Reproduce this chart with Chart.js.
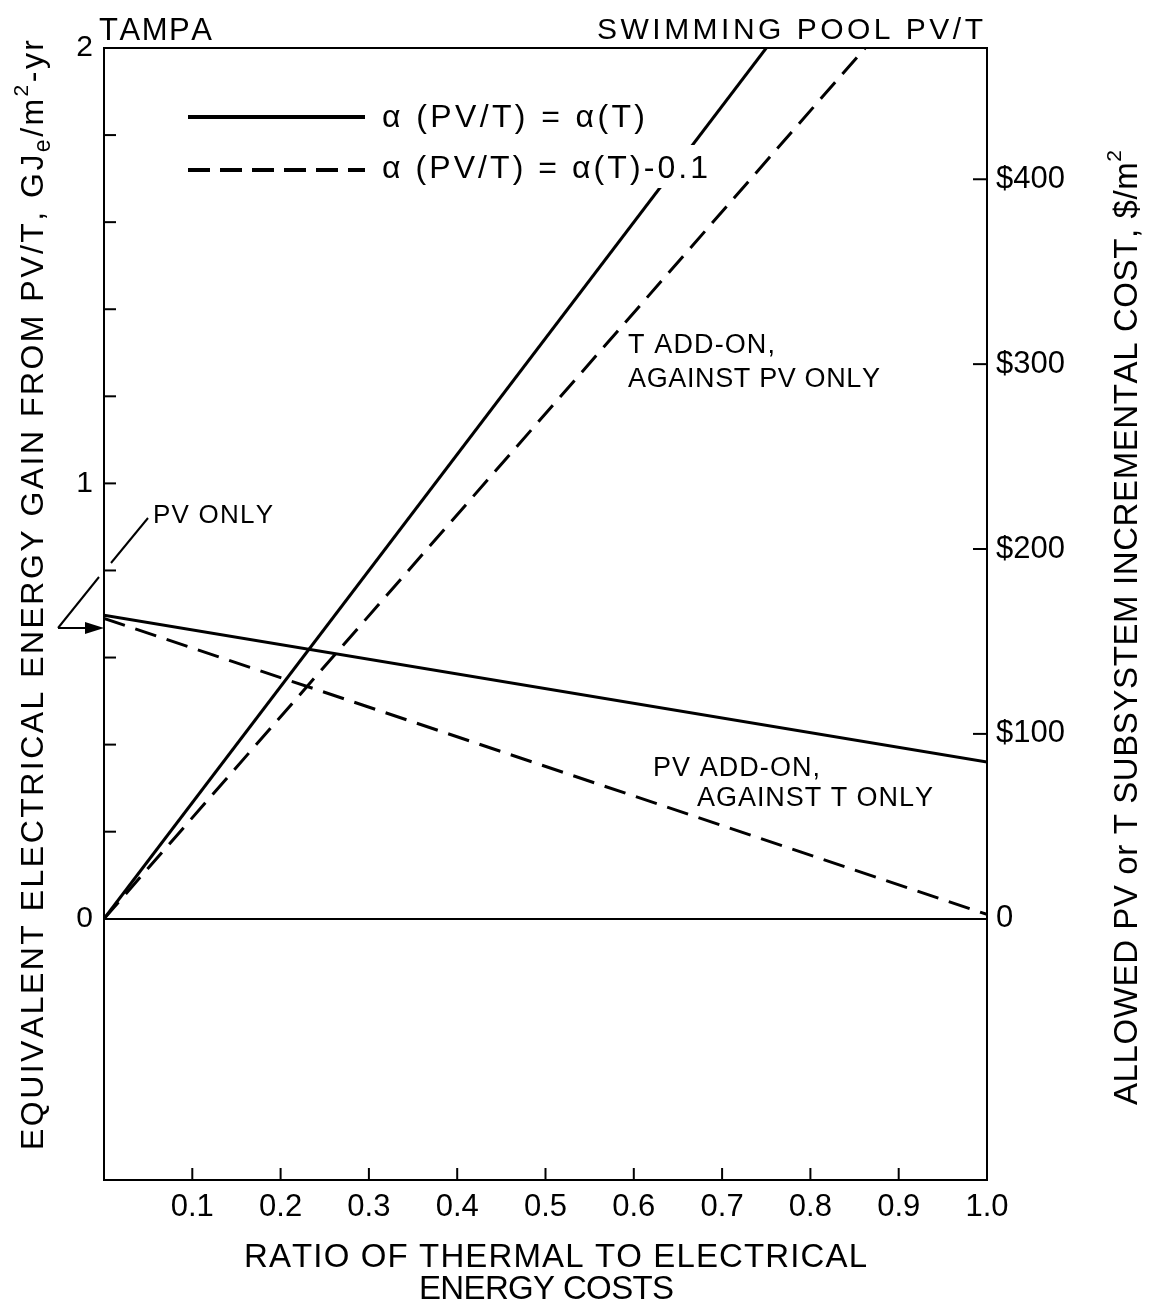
<!DOCTYPE html>
<html><head><meta charset="utf-8">
<script src="https://cdn.jsdelivr.net/npm/chart.js@4.4.1/dist/chart.umd.min.js"></script>
<style>html,body{margin:0;padding:0;background:#fff;}#wrap{width:1159px;height:1307px;position:relative;}</style>
</head><body><div id="wrap"><canvas id="c" width="1159" height="1307"></canvas></div>
<script>
// ---- data ----
const tAddOnSolidX = [0, 0.75];
const tAddOnSolidY = [0, 2.0];
const tAddOnDashedX = [0, 0.862];
const tAddOnDashedY = [0, 2.0];
const pvAddOnX = [0, 1.0];
const pvAddOnSolidY = [0.697, 0.36];
const pvAddOnDashedY = [0.69, 0.01];

const xTickValues = [0.1, 0.2, 0.3, 0.4, 0.5, 0.6, 0.7, 0.8, 0.9, 1.0];
const xTickLabels = ['0.1', '0.2', '0.3', '0.4', '0.5', '0.6', '0.7', '0.8', '0.9', '1.0'];
const xTickMarks = [0.1, 0.2, 0.3, 0.4, 0.5, 0.6, 0.7, 0.8, 0.9];
const yTickValues = [0, 1, 2];
const yTickLabels = ['0', '1', '2'];
const yTickMarks = [0.2, 0.4, 0.6, 0.8, 1.0, 1.2, 1.4, 1.6, 1.8];
const costTickValues = [0, 100, 200, 300, 400];
const costTickLabels = ['0', '$100', '$200', '$300', '$400'];
const costTickMarks = [100, 200, 300, 400];
const dollarsPerGJ = 235.5;
const yMin = -0.6, yMax = 2;

const FAMILY = "'Liberation Sans', Arial, Helvetica, sans-serif";
function fnt(size) { return size + 'px ' + FAMILY; }
function pts(xs, ys) { return xs.map((x, i) => ({x: x, y: ys[i]})); }

function drawFitted(ctx, segs, x, y, target) {
  const chars = [];
  for (const s of segs) for (const ch of Array.from(s.t)) chars.push({ch: ch, size: s.size, dy: s.dy || 0});
  let nat = 0;
  for (const c of chars) { ctx.font = fnt(c.size); c.w = ctx.measureText(c.ch).width; nat += c.w; }
  const extra = chars.length > 1 ? (target - nat) / (chars.length - 1) : 0;
  let cx = x;
  for (const c of chars) { ctx.font = fnt(c.size); ctx.fillText(c.ch, cx, y + c.dy); cx += c.w + extra; }
}

function line(ctx, x1, y1, x2, y2) { ctx.beginPath(); ctx.moveTo(x1, y1); ctx.lineTo(x2, y2); ctx.stroke(); }

const decor = {
  id: 'decor',
  afterDatasetsDraw(chart) {
    const ctx = chart.ctx;
    const a = chart.chartArea;
    const xs = chart.scales.x, ys = chart.scales.y, cs = chart.scales.y2;
    ctx.save();
    ctx.strokeStyle = '#000'; ctx.fillStyle = '#000';
    ctx.lineCap = 'butt';
    // top frame
    ctx.lineWidth = 2;
    line(ctx, a.left, a.top, a.right, a.top);
    // inner tick marks
    for (const v of xTickMarks) { const px = xs.getPixelForValue(v); line(ctx, px, a.bottom, px, a.bottom - 12); }
    for (const v of yTickMarks) { const py = ys.getPixelForValue(v); line(ctx, a.left, py, a.left + 12, py); }
    for (const v of costTickMarks) { const py = cs.getPixelForValue(v); line(ctx, a.right - 14, py, a.right, py); }

    // legend
    ctx.fillStyle = '#fff';
    ctx.fillRect(374, 145, 342, 43);
    ctx.fillStyle = '#000';
    ctx.lineWidth = 4;
    line(ctx, 188, 117, 365, 117);
    ctx.setLineDash([22, 10]);
    line(ctx, 188, 170, 365, 170);
    ctx.setLineDash([]);
    ctx.textAlign = 'left'; ctx.textBaseline = 'alphabetic';
    drawFitted(ctx, [{t: 'α (PV/T) = α(T)', size: 32}], 382, 127, 263);
    drawFitted(ctx, [{t: 'α (PV/T) = α(T)-0.1', size: 32}], 382, 178, 326);

    // headings
    drawFitted(ctx, [{t: 'TAMPA', size: 31}], 99, 40, 113);
    drawFitted(ctx, [{t: 'SWIMMING POOL PV/T', size: 30}], 597, 39, 386);

    // annotations
    drawFitted(ctx, [{t: 'T ADD-ON,', size: 27}], 628, 353, 147);
    drawFitted(ctx, [{t: 'AGAINST PV ONLY', size: 27}], 628, 387, 252);
    drawFitted(ctx, [{t: 'PV ADD-ON,', size: 27}], 653, 776, 167);
    drawFitted(ctx, [{t: 'AGAINST T ONLY', size: 27}], 697, 806, 236);
    drawFitted(ctx, [{t: 'PV ONLY', size: 26}], 153, 523, 120);

    // PV ONLY leader + arrow
    ctx.lineWidth = 2;
    line(ctx, 148, 518, 111, 563);
    line(ctx, 99, 577, 58, 628);
    line(ctx, 58, 628, 88, 628);
    ctx.beginPath(); ctx.moveTo(104, 628); ctx.lineTo(85, 622); ctx.lineTo(85, 634); ctx.closePath(); ctx.fill();

    // x axis title
    drawFitted(ctx, [{t: 'RATIO OF THERMAL TO ELECTRICAL', size: 33}], 244, 1267, 623);
    drawFitted(ctx, [{t: 'ENERGY COSTS', size: 33}], 419, 1299, 255);

    // left axis title
    ctx.save();
    ctx.translate(43, 1150); ctx.rotate(-Math.PI / 2);
    drawFitted(ctx, [
      {t: 'EQUIVALENT ELECTRICAL ENERGY GAIN FROM PV/T, GJ', size: 32},
      {t: 'e', size: 23, dy: 7},
      {t: '/m', size: 32},
      {t: '2', size: 21, dy: -15},
      {t: '-yr', size: 32}
    ], 0, 0, 1110);
    ctx.restore();

    // right axis title
    ctx.save();
    ctx.translate(1137, 1105); ctx.rotate(-Math.PI / 2);
    drawFitted(ctx, [
      {t: 'ALLOWED PV or T SUBSYSTEM INCREMENTAL COST, $/m', size: 33},
      {t: '2', size: 21, dy: -16}
    ], 0, 0, 955);
    ctx.restore();

    ctx.restore();
  }
};

const solid = {borderColor: '#000', borderWidth: 3, pointRadius: 0, fill: false, tension: 0};
const dashed = Object.assign({}, solid, {borderDash: [22, 11]});

new Chart(document.getElementById('c'), {
  type: 'line',
  data: {
    datasets: [
      Object.assign({label: 'T add-on, α(PV/T)=α(T)', data: pts(tAddOnSolidX, tAddOnSolidY)}, solid),
      Object.assign({label: 'T add-on, α(PV/T)=α(T)-0.1', data: pts(tAddOnDashedX, tAddOnDashedY)}, dashed),
      Object.assign({label: 'PV add-on, α(PV/T)=α(T)', data: pts(pvAddOnX, pvAddOnSolidY)}, solid),
      Object.assign({label: 'PV add-on, α(PV/T)=α(T)-0.1', data: pts(pvAddOnX, pvAddOnDashedY)}, dashed)
    ]
  },
  options: {
    responsive: false,
    animation: false,
    devicePixelRatio: 1,
    layout: {padding: {top: 48, left: 0, right: 0, bottom: 0}},
    plugins: {legend: {display: false}, tooltip: {enabled: false}},
    scales: {
      x: {
        type: 'linear', position: 'bottom', min: 0, max: 1,
        afterBuildTicks: s => { s.ticks = xTickValues.map(v => ({value: v})); },
        afterFit: s => { s.height = 127; },
        ticks: {callback: (v, i) => xTickLabels[i], font: {family: FAMILY, size: 31}, color: '#000', padding: 9, maxRotation: 0, autoSkip: false},
        grid: {display: false, drawTicks: false},
        border: {display: true, color: '#000', width: 2}
      },
      y: {
        type: 'linear', position: 'left', min: yMin, max: yMax,
        afterBuildTicks: s => { s.ticks = yTickValues.map(v => ({value: v})); },
        afterFit: s => { s.width = 104; },
        ticks: {callback: (v, i) => yTickLabels[i], font: {family: FAMILY, size: 30}, color: '#000', padding: 11},
        grid: {color: c => (c.tick && c.tick.value === 0) ? '#000' : 'rgba(0,0,0,0)', lineWidth: 2, drawTicks: false},
        border: {display: true, color: '#000', width: 2}
      },
      y2: {
        type: 'linear', position: 'right', min: yMin * dollarsPerGJ, max: yMax * dollarsPerGJ,
        afterBuildTicks: s => { s.ticks = costTickValues.map(v => ({value: v})); },
        afterFit: s => { s.width = 172; },
        ticks: {callback: (v, i) => costTickLabels[i], font: {family: FAMILY, size: 31}, color: '#000', padding: 9},
        grid: {display: false, drawTicks: false, drawOnChartArea: false},
        border: {display: true, color: '#000', width: 2}
      }
    }
  },
  plugins: [decor]
});
</script></body></html>
